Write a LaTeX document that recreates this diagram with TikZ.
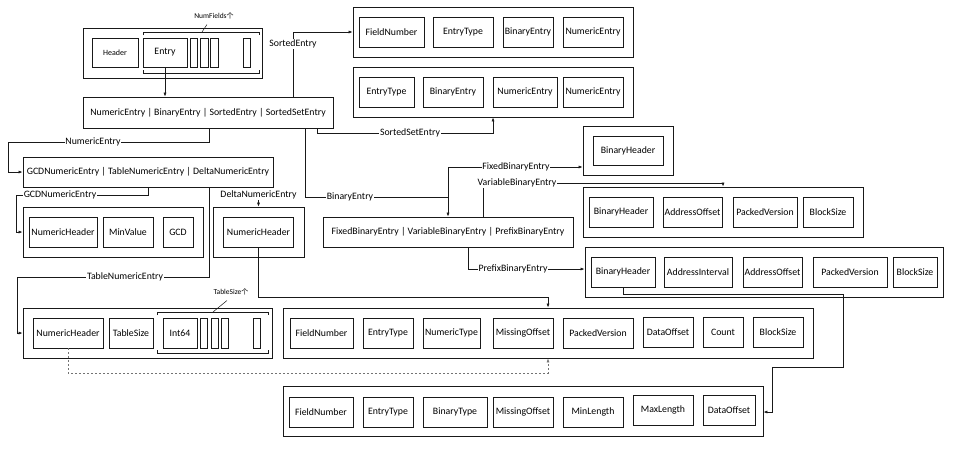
\documentclass[tikz,border=0pt]{standalone}
\usepackage{fontspec}
\setmainfont{Carlito}
\newfontfamily\cjk{Noto Sans CJK SC}
\usetikzlibrary{arrows.meta}
\tikzset{
  ln/.style={draw=black!90, line width=0.8pt},
  wh/.style 2 args={minimum width=#1pt, minimum height=#2pt},
  cell/.style={ln, inner sep=0pt, font=\fontsize{9.8}{11}\selectfont},
  outer/.style={ln, inner sep=0pt},
  arr/.style={ln, line width=0.65pt, -{Latex[length=4pt,width=3pt]}},
  dotarr/.style={draw=black!55, line width=0.6pt, dash pattern=on 2pt off 2pt, -{Latex[length=4pt,width=3pt]}},
  lbl/.style={fill=white, inner sep=0.8pt, font=\fontsize{9.8}{11}\selectfont},
  small/.style={inner sep=0.5pt, font=\fontsize{7.5}{9}\selectfont},
}
\begin{document}
\begin{tikzpicture}[x=1pt, y=-1pt]
\useasboundingbox (0,0) rectangle (958,448);

% ---------- top-left record ----------
\node[outer, wh={179}{50}] (rec) at (172.5,53) {};
\node[cell, wh={46}{29}, font=\fontsize{8}{9}\selectfont] (hdr) at (115,52.5) {Header};
\node[cell, wh={44}{29}] (entry) at (165,52.5) {Entry};
\node[cell, wh={7.5}{29}] (eb1) at (194,52.5) {};
\node[cell, wh={7.5}{29}] (eb2) at (204.5,52.5) {};
\node[cell, wh={7.5}{29}] (eb3) at (214.5,52.5) {};
\node[cell, wh={7.5}{29}] (eb4) at (247,52.5) {};
\draw[ln, line width=0.6pt] (143,35) -- (143,32) -- (259,32) -- (259,35);
\draw[ln, line width=0.6pt] (143,70) -- (143,73) -- (259,73) -- (259,70);
\node[small] (nf) at (214,16) {NumFields{\cjk\fontsize{7}{9}\selectfont 个}};
\draw[ln, line width=0.5pt] (202,32) -- (207,24.5);

% ---------- main selector ----------
\node[cell, wh={250}{31}] (main) at (208,112.5) {NumericEntry | BinaryEntry | SortedEntry | SortedSetEntry};
\draw[arr] (entry.south) -- (entry.south |- main.north);

% ---------- sorted entry boxes ----------
\node[outer, wh={280}{50}] (box1) at (493,32) {};
\node[cell, wh={65}{30}] (b1a) at (391.5,32) {FieldNumber};
\node[cell, wh={60}{30}] (b1b) at (463,32) {EntryType};
\node[cell, wh={50}{30}] (b1c) at (528,32) {BinaryEntry};
\node[cell, wh={60}{30}] (b1d) at (593,32) {NumericEntry};

\node[outer, wh={280}{50}] (box2) at (493,92) {};
\node[cell, wh={55}{30}] (b2a) at (386.5,92) {EntryType};
\node[cell, wh={60}{30}] (b2b) at (453,92) {BinaryEntry};
\node[cell, wh={64}{30}] (b2c) at (525,92) {NumericEntry};
\node[cell, wh={60}{30}] (b2d) at (593,92) {NumericEntry};

\coordinate (kS) at (293,32);
\draw[arr] (main.north -| kS) -- (kS) -- (box1.west);
\node[lbl] (lS) at (293,44) {SortedEntry};

\coordinate (kSS1) at (317,133);
\coordinate (kSS2) at (493,133);
\draw[arr] (main.south -| kSS1) -- (kSS1) -- (kSS2) -- (box2.south);
\node[lbl] (lSS) at (410,133) {SortedSetEntry};

% ---------- numeric selector ----------
\node[cell, wh={250}{30}] (nsel) at (148,172) {GCDNumericEntry | TableNumericEntry | DeltaNumericEntry};
\coordinate (kN1) at (209,142);
\coordinate (kN2) at (8,142);
\coordinate (kN3) at (8,172);
\draw[arr] (main.south -| kN1) -- (kN1) -- (kN2) -- (kN3) -- (nsel.west);
\node[lbl] (lN) at (93,142) {NumericEntry};

% GCD
\node[outer, wh={180}{50}] (gcdbox) at (113,232) {};
\node[cell, wh={68}{30}] (g1) at (63,232) {NumericHeader};
\node[cell, wh={50}{30}] (g2) at (128,232) {MinValue};
\node[cell, wh={30}{30}] (g3) at (178,232) {GCD};
\coordinate (kG1) at (148,195);
\coordinate (kG2) at (16,195);
\coordinate (kG3) at (16,232);
\draw[arr] (nsel.south) -- (kG1) -- (kG2) -- (kG3) -- (gcdbox.west);
\node[lbl] (lG) at (60,195) {GCDNumericEntry};

% Table
\node[outer, wh={249}{50}] (tblbox) at (147.5,333) {};
\node[cell, wh={70}{30}] (t1) at (68,333) {NumericHeader};
\node[cell, wh={44}{30}] (t2) at (131,333) {TableSize};
\node[cell, wh={34}{30}] (t3) at (180,333) {Int64};
\node[cell, wh={7}{30}] (tb1) at (203.5,333) {};
\node[cell, wh={7}{30}] (tb2) at (214.5,333) {};
\node[cell, wh={7}{30}] (tb3) at (225,333) {};
\node[cell, wh={7.5}{30}] (tb4) at (257,333) {};
\draw[ln, line width=0.6pt] (157,315) -- (157,312) -- (268,312) -- (268,315);
\draw[ln, line width=0.6pt] (157,350) -- (157,353) -- (268,353) -- (268,350);
\node[small] (ts) at (231,292) {TableSize{\cjk\fontsize{7}{9}\selectfont 个}};
\draw[ln, line width=0.5pt] (213,312) -- (227,300.5);
\coordinate (kT1) at (209,277);
\coordinate (kT2) at (17,277);
\coordinate (kT3) at (17,333);
\draw[arr] (nsel.south -| kT1) -- (kT1) -- (kT2) -- (kT3) -- (tblbox.west);
\node[lbl] (lT) at (125,277) {TableNumericEntry};

% Delta
\node[outer, wh={91}{50}] (dbox) at (258.5,232) {};
\node[cell, wh={70}{30}] (d1) at (258.5,232) {NumericHeader};
\node[lbl] (lD) at (258.5,195) {DeltaNumericEntry};
\draw[arr] (lD.south) -- (dbox.north);

% ---------- numeric fields ----------
\node[outer, wh={530}{50}] (nbig) at (548,333) {};
\node[cell, wh={63}{30}] (n1) at (321.5,333) {FieldNumber};
\node[cell, wh={50}{30}] (n2) at (388,333) {EntryType};
\node[cell, wh={57}{30}] (n3) at (451.5,333) {NumericType};
\node[cell, wh={60}{30}] (n4) at (523,333) {MissingOffset};
\node[cell, wh={70}{30}] (n5) at (598,333) {PackedVersion};
\node[cell, wh={50}{30}] (n6) at (668,332) {DataOffset};
\node[cell, wh={40}{30}] (n7) at (723,332.5) {Count};
\node[cell, wh={50}{30}] (n8) at (778,332.5) {BlockSize};
\coordinate (kD1) at (258.5,297);
\coordinate (kD2) at (548,297);
\draw[arr] (d1.south) -- (kD1) -- (kD2) -- (nbig.north);
\coordinate (kDt1) at (68,373);
\coordinate (kDt2) at (548,373);
\draw[dotarr] (t1.south) -- (kDt1) -- (kDt2) -- (nbig.south);

% ---------- binary selector ----------
\node[cell, wh={250}{30}] (bsel) at (448,232) {FixedBinaryEntry | VariableBinaryEntry | PrefixBinaryEntry};
\coordinate (kB1) at (305,197);
\coordinate (kB2) at (448,197);
\draw[arr] (main.south -| kB1) -- (kB1) -- (kB2) -- (bsel.north);
\node[lbl] (lB) at (350,197) {BinaryEntry};

\node[outer, wh={90}{49}] (fbox) at (628,150.5) {};
\node[cell, wh={70}{29}] (f1) at (628,150.5) {BinaryHeader};
\coordinate (kF1) at (448,167);
\draw[arr] (kB2) -- (kF1) -- (fbox.west |- kF1);
\node[lbl] (lF) at (516,167) {FixedBinaryEntry};

\node[outer, wh={280}{50}] (vbox) at (723,212) {};
\node[cell, wh={64}{30}] (v1) at (621,212) {BinaryHeader};
\node[cell, wh={59}{30}] (v2) at (692.5,212) {AddressOffset};
\node[cell, wh={64}{30}] (v3) at (765,212) {PackedVersion};
\node[cell, wh={50}{30}] (v4) at (828,212) {BlockSize};
\coordinate (kV1) at (483,183);
\coordinate (kV2) at (723,183);
\draw[arr] (bsel.north -| kV1) -- (kV1) -- (kV2) -- (vbox.north);
\node[lbl] (lV) at (517,183) {VariableBinaryEntry};

\node[outer, wh={358}{50}] (pbox) at (764,272) {};
\node[cell, wh={64}{30}] (p1) at (623,272) {BinaryHeader};
\node[cell, wh={68}{30}] (p2) at (698,272) {AddressInterval};
\node[cell, wh={59}{30}] (p3) at (772.5,272) {AddressOffset};
\node[cell, wh={74}{30}] (p4) at (850,272) {PackedVersion};
\node[cell, wh={44}{30}] (p5) at (915,272) {BlockSize};
\coordinate (kP1) at (468,269);
\draw[arr] (bsel.south -| kP1) -- (kP1) -- (pbox.west |- kP1);
\node[lbl] (lP) at (513,269) {PrefixBinaryEntry};

% ---------- binary fields ----------
\node[outer, wh={480}{50}] (bbig) at (523,411) {};
\node[cell, wh={64}{30}] (q1) at (321,412) {FieldNumber};
\node[cell, wh={50}{30}] (q2) at (388,412) {EntryType};
\node[cell, wh={64}{30}] (q3) at (455,412) {BinaryType};
\node[cell, wh={60}{30}] (q4) at (523,412) {MissingOffset};
\node[cell, wh={60}{30}] (q5) at (593,412) {MinLength};
\node[cell, wh={60}{30}] (q6) at (663,410) {MaxLength};
\node[cell, wh={52}{30}] (q7) at (729,410) {DataOffset};
\coordinate (kH1) at (623,294);
\coordinate (kH2) at (843,294);
\coordinate (kH3) at (843,367);
\coordinate (kH4) at (772,367);
\coordinate (kH5) at (772,412);
\draw[arr] (p1.south) -- (kH1) -- (kH2) -- (kH3) -- (kH4) -- (kH5) -- (bbig.east |- kH5);
\end{tikzpicture}
\end{document}
